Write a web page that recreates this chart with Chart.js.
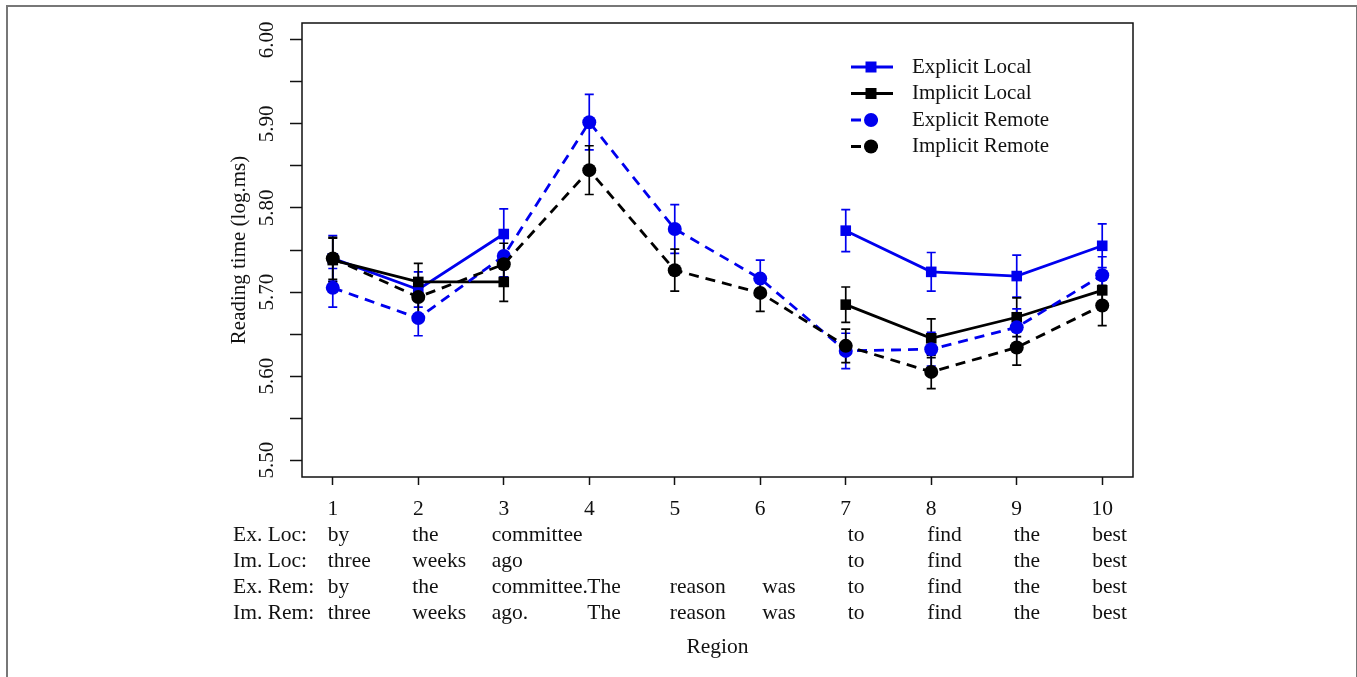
<!DOCTYPE html>
<html>
<head>
<meta charset="utf-8">
<script src="https://cdn.jsdelivr.net/npm/chart.js@4.4.1/dist/chart.umd.min.js"></script>
<style>
    body { margin: 0; background: #fff; }
    #wrap { position: relative; width: 1357px; height: 677px; overflow: hidden; }
    #frame { position: absolute; left: 6px; top: 5px; width: 1348px; height: 700px; border: 2px solid #777; border-bottom: none; }
    #plot { position: absolute; left: 0; top: 0; }
</style>
</head>
<body>
<div id="wrap">
    <div id="frame"></div>
    <canvas id="plot" width="1357" height="677"></canvas>
</div>
<script>
const regions = [1, 2, 3, 4, 5, 6, 7, 8, 9, 10]
const xTickLabels = ['1', '2', '3', '4', '5', '6', '7', '8', '9', '10']
const yTicks = [5.50, 5.55, 5.60, 5.65, 5.70, 5.75, 5.80, 5.85, 5.90, 5.95, 6.00]
const yTickLabels = ['5.50', '', '5.60', '', '5.70', '', '5.80', '', '5.90', '', '6.00']

const explicitLocal = [5.740, 5.703, 5.769, null, null, null, 5.773, 5.724, 5.719, 5.755]
const explicitLocalSE = [0.027, 0.021, 0.030, null, null, null, 0.025, 0.023, 0.025, 0.026]
const implicitLocal = [5.738, 5.712, 5.712, null, null, null, 5.685, 5.645, 5.670, 5.702]
const implicitLocalSE = [0.026, 0.022, 0.023, null, null, null, 0.021, 0.023, 0.023, 0.020]
const explicitRemote = [5.705, 5.669, 5.743, 5.902, 5.775, 5.716, 5.630, 5.632, 5.658, 5.720]
const explicitRemoteSE = [0.023, 0.021, 0.025, 0.033, 0.029, 0.022, 0.021, 0.020, 0.022, 0.022]
const implicitRemote = [5.740, 5.694, 5.733, 5.845, 5.726, 5.699, 5.636, 5.605, 5.634, 5.684]
const implicitRemoteSE = [0.025, 0.020, 0.025, 0.029, 0.025, 0.022, 0.020, 0.020, 0.021, 0.024]

const rowLabels = ['Ex. Loc:', 'Im. Loc:', 'Ex. Rem:', 'Im. Rem:']
const exLocWords = ['by', 'the', 'committee', '', '', '', 'to', 'find', 'the', 'best']
const imLocWords = ['three', 'weeks', 'ago', '', '', '', 'to', 'find', 'the', 'best']
const exRemWords = ['by', 'the', 'committee.', 'The', 'reason', 'was', 'to', 'find', 'the', 'best']
const imRemWords = ['three', 'weeks', 'ago.', 'The', 'reason', 'was', 'to', 'find', 'the', 'best']

const seriesNames = ['Explicit Local', 'Implicit Local', 'Explicit Remote', 'Implicit Remote']

const FONT = "'Liberation Serif', 'Times New Roman', serif"
const BLUE = '#0000ee'
const BLACK = '#000000'

function toPoints(values) {
    return regions.map((r, i) => ({ x: r, y: values[i] }))
}

function makeSet(label, values, se, color, dashed, style, order) {
    return {
        label: label,
        data: toPoints(values),
        se: se,
        borderColor: color,
        backgroundColor: color,
        borderWidth: 2.8,
        borderDash: dashed ? [10, 7] : [],
        pointStyle: style,
        pointRadius: style === 'rect' ? 7.5 : 7,
        pointBorderWidth: 0,
        spanGaps: false,
        tension: 0,
        order: order
    }
}

// error bars, box, rotated y labels, word rows and legend
const extras = {
    id: 'extras',
    beforeDatasetsDraw(chart) {
        const ctx = chart.ctx
        const x = chart.scales.x, y = chart.scales.y
        ctx.save()
        chart.data.datasets.forEach(ds => {
            ctx.strokeStyle = ds.borderColor
            ctx.lineWidth = 1.7
            ds.data.forEach((p, i) => {
                if (p.y === null) return
                const px = x.getPixelForValue(p.x)
                const top = y.getPixelForValue(p.y + ds.se[i])
                const bot = y.getPixelForValue(p.y - ds.se[i])
                ctx.beginPath()
                ctx.moveTo(px, top); ctx.lineTo(px, bot)
                ctx.moveTo(px - 4.5, top); ctx.lineTo(px + 4.5, top)
                ctx.moveTo(px - 4.5, bot); ctx.lineTo(px + 4.5, bot)
                ctx.stroke()
            })
        })
        ctx.restore()
    },
    afterDraw(chart) {
        const ctx = chart.ctx
        const a = chart.chartArea
        const x = chart.scales.x, y = chart.scales.y
        ctx.save()
        ctx.strokeStyle = '#111'
        ctx.lineWidth = 1.5
        ctx.strokeRect(a.left, a.top, a.right - a.left, a.bottom - a.top)

        // y tick labels, rotated like R's default
        ctx.fillStyle = '#111'
        ctx.font = '21px ' + FONT
        ctx.textAlign = 'center'
        ctx.textBaseline = 'middle'
        yTicks.forEach((v, i) => {
            if (!yTickLabels[i]) return
            ctx.save()
            ctx.translate(267, y.getPixelForValue(v))
            ctx.rotate(-Math.PI / 2)
            ctx.fillText(yTickLabels[i], 0, 0)
            ctx.restore()
        })

        // sentence words under each region
        const rows = [exLocWords, imLocWords, exRemWords, imRemWords]
        const rowY = [535, 561, 587, 613]
        const nudge = [-5, -6, -12, -2, -5, 2, 2, -4, -3, -10]
        ctx.font = '21.5px ' + FONT
        ctx.textAlign = 'left'
        rows.forEach((words, r) => {
            ctx.fillText(rowLabels[r], 233, rowY[r])
            words.forEach((w, i) => {
                if (w) ctx.fillText(w, x.getPixelForValue(regions[i]) + nudge[i], rowY[r])
            })
        })

        // legend
        const sets = chart.data.datasets
        ctx.font = '21px ' + FONT
        seriesNames.forEach((name, r) => {
            const ds = sets.find(d => d.label === name)
            const ly = 67 + r * 26.5
            ctx.strokeStyle = ds.borderColor
            ctx.fillStyle = ds.borderColor
            ctx.lineWidth = 2.8
            ctx.setLineDash(ds.borderDash)
            ctx.beginPath()
            ctx.moveTo(851, ly); ctx.lineTo(ds.borderDash.length ? 885 : 893, ly)
            ctx.stroke()
            ctx.setLineDash([])
            ctx.beginPath()
            if (ds.pointStyle === 'rect') ctx.rect(865.5, ly - 5.5, 11, 11)
            else ctx.arc(871, ly, 7, 0, Math.PI * 2)
            ctx.fill()
            ctx.fillStyle = '#111'
            ctx.fillText(ds.label, 912, ly)
        })
        ctx.restore()
    }
}

window.onload = () => {
    const ctx = document.getElementById('plot').getContext('2d')
    new Chart(ctx, {
        type: 'line',
        data: {
            datasets: [
                makeSet(seriesNames[0], explicitLocal, explicitLocalSE, BLUE, false, 'rect', 3),
                makeSet(seriesNames[1], implicitLocal, implicitLocalSE, BLACK, false, 'rect', 2),
                makeSet(seriesNames[2], explicitRemote, explicitRemoteSE, BLUE, true, 'circle', 1),
                makeSet(seriesNames[3], implicitRemote, implicitRemoteSE, BLACK, true, 'circle', 0)
            ]
        },
        options: {
            responsive: false,
            animation: false,
            layout: { padding: { left: 223, right: 224, top: 23, bottom: 13 } },
            plugins: { legend: { display: false }, tooltip: { enabled: false } },
            scales: {
                x: {
                    type: 'linear', min: 0.64, max: 10.36,
                    afterBuildTicks: s => { s.ticks = regions.map(v => ({ value: v })) },
                    afterFit: s => { s.height = 187 },
                    grid: { drawOnChartArea: false, drawTicks: true, tickLength: 8, tickColor: '#111', tickWidth: 1.5 },
                    border: { display: false },
                    ticks: {
                        padding: 11, color: '#111', maxRotation: 0, autoSkip: false,
                        font: { family: FONT, size: 21.5 },
                        callback: v => xTickLabels[regions.indexOf(v)]
                    },
                    title: { display: true, text: 'Region', color: '#111', font: { family: FONT, size: 21.5 } }
                },
                y: {
                    type: 'linear', min: 5.48, max: 6.02,
                    afterBuildTicks: s => { s.ticks = yTicks.map(v => ({ value: v })) },
                    afterFit: s => { s.width = 79 },
                    grid: { drawOnChartArea: false, drawTicks: true, tickLength: 12, tickColor: '#111', tickWidth: 1.5 },
                    border: { display: false },
                    ticks: { display: false },
                    title: { display: true, text: 'Reading time (log.ms)', color: '#111', font: { family: FONT, size: 21 } }
                }
            }
        },
        plugins: [extras]
    })
}
</script>
</body>
</html>
